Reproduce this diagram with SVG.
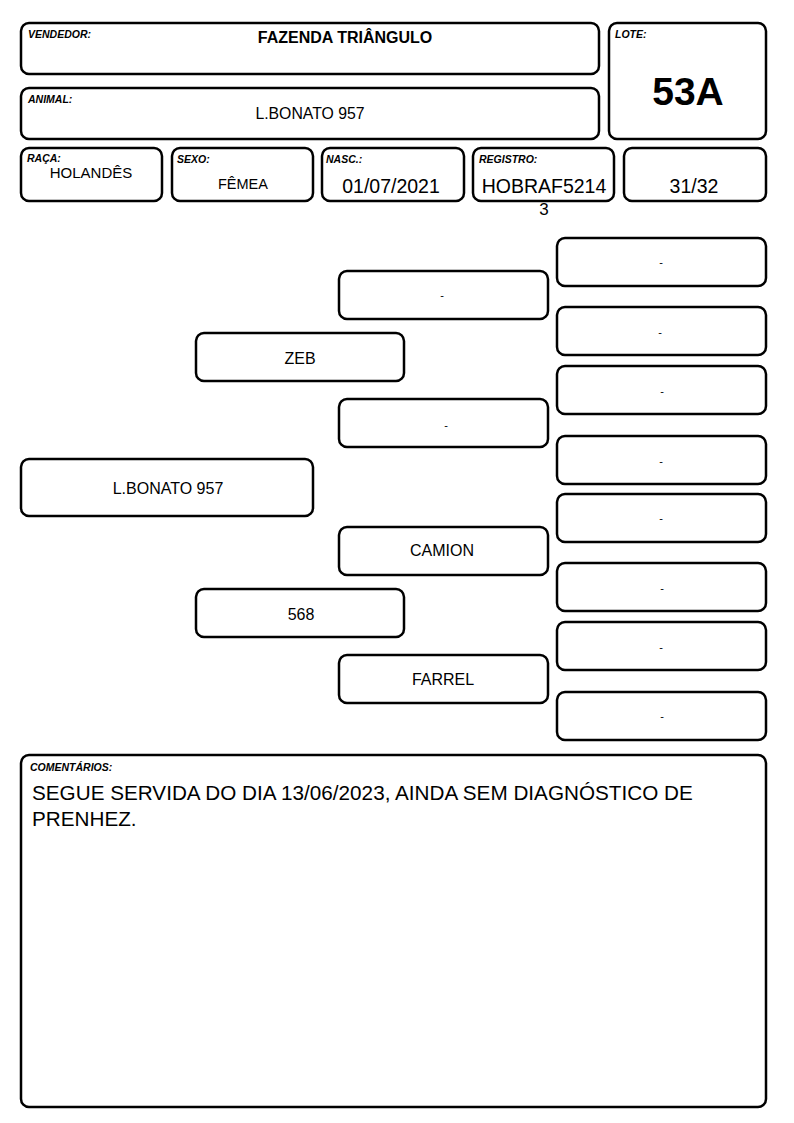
<svg xmlns="http://www.w3.org/2000/svg" width="794" height="1123" viewBox="0 0 794 1123">
<style>
.b{fill:#fff;stroke:#000;stroke-width:2.5}
.lb{font-family:"Liberation Sans",Arial,sans-serif;font-size:10.5px;font-weight:bold;font-style:italic;fill:#000}
.t{font-family:"Liberation Sans",Arial,sans-serif;font-size:16px;fill:#000;text-anchor:middle}
.m{font-family:"Liberation Sans",Arial,sans-serif;font-size:19.5px;fill:#000;text-anchor:middle}
.d{font-family:"Liberation Sans",Arial,sans-serif;font-size:11px;fill:#000;text-anchor:middle}
</style>
<rect width="794" height="1123" fill="#fff"/>
<g id="vendedor"><rect class="b" x="21" y="23" width="578" height="51" rx="8"/><text class="lb" x="28" y="38">VENDEDOR:</text><text class="t" x="345" y="43" style="font-size:16px;font-weight:bold">FAZENDA TRIÂNGULO</text></g>
<g id="animal"><rect class="b" x="21" y="88" width="578" height="51" rx="8"/><text class="lb" x="28" y="103">ANIMAL:</text><text class="t" x="310" y="119" style="font-size:15.8px">L.BONATO 957</text></g>
<g id="lote"><rect class="b" x="609" y="23" width="157" height="116" rx="8"/><text class="lb" x="615" y="38">LOTE:</text><text class="t" x="688" y="105" style="font-size:39px;font-weight:bold">53A</text></g>
<g id="raca"><rect class="b" x="21" y="148" width="141" height="53" rx="8"/><text class="lb" x="27" y="162">RAÇA:</text><text class="t" x="91" y="178" style="font-size:15px">HOLANDÊS</text></g>
<g id="sexo"><rect class="b" x="172" y="148" width="141" height="53" rx="8"/><text class="lb" x="177" y="163">SEXO:</text><text class="t" x="243" y="189" style="font-size:14.5px">FÊMEA</text></g>
<g id="nasc"><rect class="b" x="322" y="148" width="142" height="53" rx="8"/><text class="lb" x="326" y="163">NASC.:</text><text class="m" x="391" y="193">01/07/2021</text></g>
<g id="registro"><rect class="b" x="473" y="148" width="141" height="53" rx="8"/><text class="lb" x="479" y="163">REGISTRO:</text><text class="m" x="544" y="193">HOBRAF5214</text><text class="m" x="544" y="215" style="font-size:17px">3</text></g>
<g id="fracao"><rect class="b" x="624" y="148" width="142" height="53" rx="8"/><text class="m" x="694" y="193">31/32</text></g>
<g id="connectors"></g>
<g id="p0"><rect class="b" x="21" y="459" width="292" height="57" rx="8"/><text class="t" x="168" y="494">L.BONATO 957</text></g>
<g id="p1"><rect class="b" x="196" y="333" width="208" height="48" rx="8"/><text class="t" x="300" y="364">ZEB</text></g>
<g id="p2"><rect class="b" x="196" y="589" width="208" height="48" rx="8"/><text class="t" x="301" y="620">568</text></g>
<g id="p3"><rect class="b" x="339" y="271" width="209" height="48" rx="8"/><text class="d" x="442" y="299">-</text></g>
<g id="p4"><rect class="b" x="339" y="399" width="209" height="48" rx="8"/><text class="d" x="446" y="429">-</text></g>
<g id="p5"><rect class="b" x="339" y="527" width="209" height="48" rx="8"/><text class="t" x="442" y="556">CAMION</text></g>
<g id="p6"><rect class="b" x="339" y="655" width="209" height="48" rx="8"/><text class="t" x="443" y="685">FARREL</text></g>
<g id="p7"><rect class="b" x="557" y="238" width="209" height="48" rx="8"/><text class="d" x="661" y="266">-</text></g>
<g id="p8"><rect class="b" x="557" y="307" width="209" height="48" rx="8"/><text class="d" x="660" y="336">-</text></g>
<g id="p9"><rect class="b" x="557" y="366" width="209" height="48" rx="8"/><text class="d" x="662" y="395">-</text></g>
<g id="p10"><rect class="b" x="557" y="436" width="209" height="48" rx="8"/><text class="d" x="661" y="465">-</text></g>
<g id="p11"><rect class="b" x="557" y="494" width="209" height="48" rx="8"/><text class="d" x="661" y="522">-</text></g>
<g id="p12"><rect class="b" x="557" y="563" width="209" height="48" rx="8"/><text class="d" x="662" y="592">-</text></g>
<g id="p13"><rect class="b" x="557" y="622" width="209" height="48" rx="8"/><text class="d" x="661" y="651">-</text></g>
<g id="p14"><rect class="b" x="557" y="692" width="209" height="48" rx="8"/><text class="d" x="662" y="720">-</text></g>
<g id="comentarios"><rect class="b" x="21" y="755" width="745" height="352" rx="8"/><text class="lb" x="30" y="771">COMENTÁRIOS:</text>
<text font-family="'Liberation Sans',Arial,sans-serif" font-size="20.7" fill="#000"><tspan x="32" y="800">SEGUE SERVIDA DO DIA 13/06/2023, AINDA SEM DIAGNÓSTICO DE</tspan><tspan x="32" y="826">PRENHEZ.</tspan></text></g>
</svg>
